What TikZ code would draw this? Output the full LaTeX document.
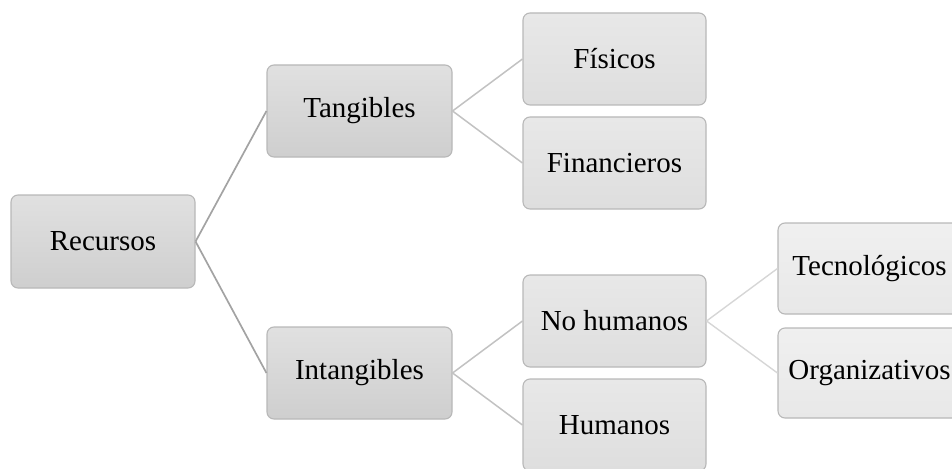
\documentclass[tikz,border=0pt]{standalone}
\usepackage{fontspec}
\setmainfont{Liberation Serif}
\begin{document}
\begin{tikzpicture}[x=1pt,y=-1pt,
  box/.style={draw=black!28, line width=1.1pt, rounded corners=7pt, inner sep=0pt,
    minimum width=183pt, minimum height=92pt, font=\fontsize{29}{34}\selectfont, text=black},
  lvA/.style={box, top color=black!12, bottom color=black!19},
  lvB/.style={box, top color=black!9, bottom color=black!13},
  lvC/.style={box, top color=black!6, bottom color=black!9},
  linkA/.style={draw=black!36, line width=1.7pt},
  linkB/.style={draw=black!24, line width=1.5pt},
  linkC/.style={draw=black!16, line width=1.4pt}]
\useasboundingbox (0,0) rectangle (952,468);
\clip (0,0) rectangle (952,468);
\node[lvA, minimum width=184pt, minimum height=93pt] (rec) at (103,241.5) {Recursos};
\node[lvA, minimum width=185pt] (tan) at (359.5,111) {Tangibles};
\node[lvA, minimum width=185pt] (int) at (359.5,373) {Intangibles};
\node[lvB] (fis) at (614.5,59) {Físicos};
\node[lvB] (fin) at (614.5,163) {Financieros};
\node[lvB] (noh) at (614.5,321) {No humanos};
\node[lvB] (hum) at (614.5,425) {Humanos};
\node[lvC, minimum height=91pt] (tec) at (869.5,268.5) {Tecnológicos};
\node[lvC, minimum height=90pt] (org) at (869.5,373) {Organizativos};
\draw[linkA] (rec.east) -- (tan.west);
\draw[linkA] (rec.east) -- (int.west);
\draw[linkB] (tan.east) -- (fis.west);
\draw[linkB] (tan.east) -- (fin.west);
\draw[linkB] (int.east) -- (noh.west);
\draw[linkB] (int.east) -- (hum.west);
\draw[linkC] (noh.east) -- (tec.west);
\draw[linkC] (noh.east) -- (org.west);
\end{tikzpicture}
\end{document}
